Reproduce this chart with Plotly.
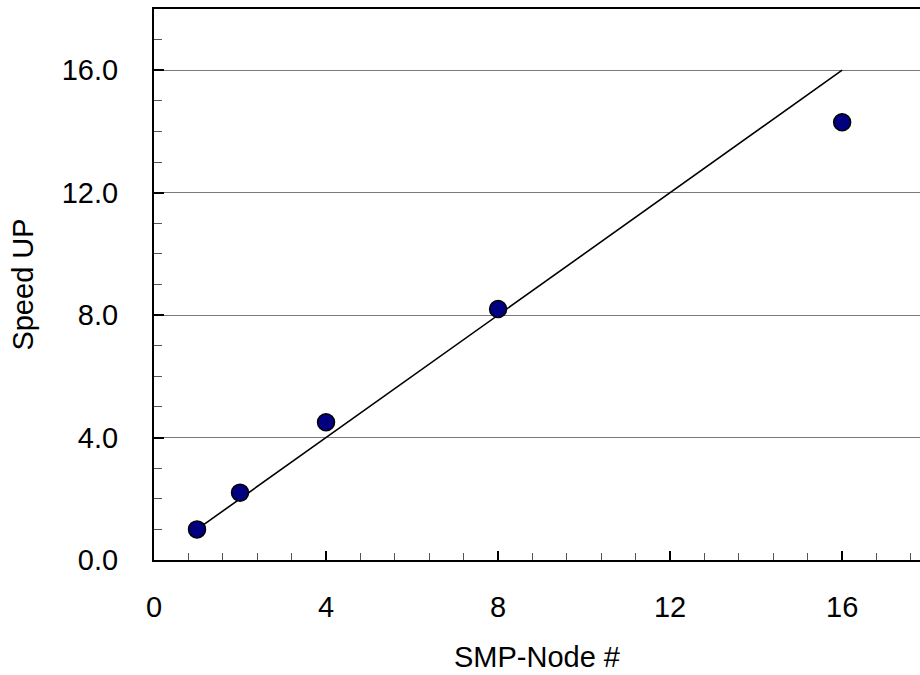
import plotly.graph_objects as go

# data
nodes = [1, 2, 4, 8, 16]
speedup = [1.0, 2.2, 4.5, 8.2, 14.3]
ideal_x = [1, 16]
ideal_y = [1, 16]
x_ticks = [0, 4, 8, 12, 16]
x_tick_labels = ["0", "4", "8", "12", "16"]
y_ticks = [0, 4, 8, 12, 16]
y_tick_labels = ["0.0", "4.0", "8.0", "12.0", "16.0"]

FONT = "Liberation Sans, Arial, sans-serif"

fig = go.Figure()
fig.add_trace(go.Scatter(
    x=ideal_x, y=ideal_y, mode="lines",
    line=dict(color="black", width=1.6),
    showlegend=False, hoverinfo="skip",
))
fig.add_trace(go.Scatter(
    x=nodes, y=speedup, mode="markers",
    marker=dict(size=17, color="#000080", line=dict(color="black", width=1.5)),
    showlegend=False,
))

fig.update_layout(
    width=920, height=675,
    margin=dict(l=154, r=0, t=9, b=115),
    paper_bgcolor="white", plot_bgcolor="white",
    font=dict(family=FONT, size=29, color="black"),
    xaxis=dict(
        range=[0, 17.81],
        tickmode="array", tickvals=x_ticks, ticktext=x_tick_labels,
        ticks="inside", ticklen=9, tickwidth=1.5, tickcolor="black",
        minor=dict(dtick=0.8, tick0=0, ticks="inside", ticklen=7, tickwidth=1, tickcolor="#555555", showgrid=False),
        showline=True, linecolor="black", linewidth=2, mirror=True,
        showgrid=False, zeroline=False,
        ticklabelstandoff=20,
        title=dict(text="SMP-Node #", font=dict(size=29), standoff=25),
    ),
    yaxis=dict(
        range=[0, 18],
        tickmode="array", tickvals=y_ticks, ticktext=y_tick_labels,
        ticks="inside", ticklen=10, tickwidth=1.5, tickcolor="black",
        minor=dict(dtick=1, tick0=0, ticks="inside", ticklen=8, tickwidth=1, tickcolor="#555555", showgrid=False),
        showline=True, linecolor="black", linewidth=2,
        showgrid=True, gridcolor="#7a7a7a", gridwidth=1.2, zeroline=False,
        ticklabelstandoff=28,
        title=dict(text="Speed UP", font=dict(size=29), standoff=20),
    ),
)

fig.write_html(
    "out.html",
    config={"displayModeBar": False},
    post_script="document.body.style.margin='0';document.body.style.overflow='hidden';",
)
